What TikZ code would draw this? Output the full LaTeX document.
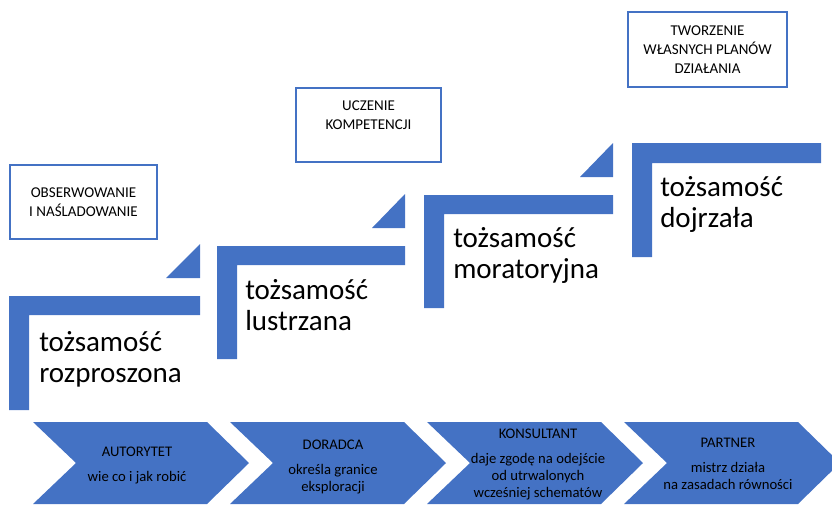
\documentclass[tikz,border=0pt]{standalone}
\usepackage{fontspec}
\setmainfont{Carlito}
\definecolor{officeblue}{HTML}{4472C4}

\begin{document}
\begin{tikzpicture}[x=0.75pt,y=0.75pt,yscale=-1,xscale=1,
  bar/.style={fill=officeblue},
  goal/.style={draw=officeblue,line width=1.1pt,align=center,inner sep=0pt,font=\fontsize{11.25}{14.5}\selectfont},
  stage/.style={anchor=north west,inner sep=0.75pt,align=left,font=\fontsize{21.75}{23.25}\selectfont},
  role/.style={align=center,inner sep=0pt,font=\fontsize{11}{12.75}\selectfont}]
\useasboundingbox (0,0) rectangle (832,504);

%Shape: L step 1
\fill[bar] (9,296) -- (200,296) -- (200,315) -- (29,315) -- (29,410) -- (9,410) -- cycle ;
%Shape: L step 2
\fill[bar] (217,246) -- (405,246) -- (405,265) -- (237,265) -- (237,359) -- (217,359) -- cycle ;
%Shape: L step 3
\fill[bar] (424,195) -- (613,195) -- (613,214) -- (444,214) -- (444,308) -- (424,308) -- cycle ;
%Shape: L step 4
\fill[bar] (632,143) -- (821,143) -- (821,163) -- (652,163) -- (652,257) -- (632,257) -- cycle ;

%Shape: Right Triangle
\fill[bar] (166,278) -- (200,278) -- (200,244) -- cycle ;
%Shape: Right Triangle
\fill[bar] (372,228) -- (405,228) -- (405,194) -- cycle ;
%Shape: Right Triangle
\fill[bar] (580,177) -- (613,177) -- (613,143) -- cycle ;

%Shape: Chevron
\fill[bar] (33,422) -- (207,422) -- (249,463) -- (207,504) -- (33,504) -- (76,463) -- cycle ;
%Shape: Chevron
\fill[bar] (230,422) -- (404,422) -- (446,463) -- (404,504) -- (230,504) -- (273,463) -- cycle ;
%Shape: Chevron
\fill[bar] (427,422) -- (601,422) -- (643,463) -- (601,504) -- (427,504) -- (470,463) -- cycle ;
%Shape: Chevron
\fill[bar] (624,422) -- (798,422) -- (840,463) -- (798,504) -- (624,504) -- (667,463) -- cycle ;

% Text Node
\draw (83.5,202) node (obserwowanie) [goal,minimum width=110.25pt,minimum height=55.5pt] {OBSERWOWANIE\\I NAŚLADOWANIE};
% Text Node
\draw (368.5,125) node (uczenie) [goal,minimum width=108.75pt,minimum height=55.5pt] {UCZENIE\\KOMPETENCJI\\\mbox{}};
% Text Node
\draw (707.5,49.5) node (tworzenie) [goal,minimum width=119.25pt,minimum height=56.25pt] {TWORZENIE\\WŁASNYCH PLANÓW\\DZIAŁANIA};

% Text Node
\draw (38,330) node (rozproszona) [stage] {tożsamość\\rozproszona};
% Text Node
\draw (244,278) node (lustrzana) [stage] {tożsamość\\lustrzana};
% Text Node
\draw (452,226) node (moratoryjna) [stage] {tożsamość\\moratoryjna};
% Text Node
\draw (659,175) node (dojrzala) [stage] {tożsamość\\dojrzała};

% Text Node
\draw (137,465) node (autorytet) [role] {AUTORYTET\\[6pt]wie co i jak robić};
% Text Node
\draw (333,467) node (doradca) [role] {DORADCA\\[6pt]określa granice\\eksploracji};
% Text Node
\draw (538,464) node (konsultant) [role] {KONSULTANT\\[6pt]daje zgodę na odejście\\od utrwalonych\\wcześniej schematów};
% Text Node
\draw (728,464) node (partner) [role] {PARTNER\\[6pt]mistrz działa\\na zasadach równości};

\end{tikzpicture}
\end{document}
